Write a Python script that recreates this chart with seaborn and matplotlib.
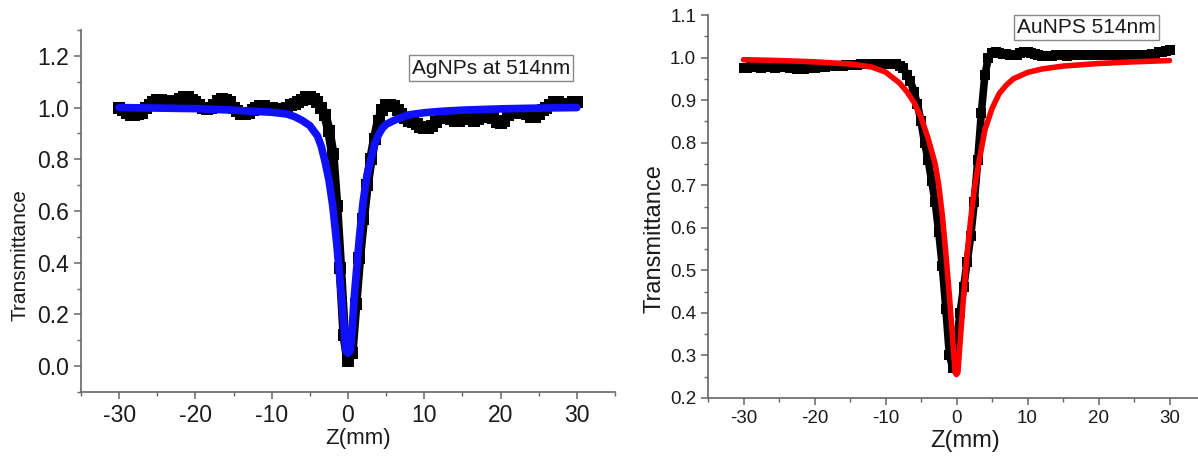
import matplotlib
matplotlib.use("Agg")
import matplotlib.pyplot as plt
import seaborn as sns
import pandas as pd
from matplotlib.ticker import MultipleLocator, AutoMinorLocator

# ---- AgNPs (left panel) measured points, z every 0.5 mm ----
ag_z = [i * 0.5 for i in range(-60, 61)]
ag_t = [1.00, 0.99, 0.98, 0.97, 0.97, 0.975, 0.98, 1.00, 1.01, 1.02,
        1.03, 1.03, 1.025, 1.02, 1.02, 1.025, 1.035, 1.04, 1.04, 1.03,
        1.02, 1.01, 1.00, 0.995, 1.00, 1.01, 1.025, 1.035, 1.03, 1.02,
        1.00, 0.985, 0.975, 0.975, 0.98, 0.99, 1.00, 1.005, 1.005, 1.00,
        1.00, 0.995, 0.99, 0.995, 1.00, 1.01, 1.015, 1.02, 1.03, 1.04,
        1.04, 1.035, 1.02, 1.00, 0.97, 0.91, 0.82, 0.62, 0.38, 0.12,
        0.02, 0.05, 0.24, 0.42, 0.57, 0.70, 0.80, 0.88, 0.95, 0.99,
        1.01, 1.01, 1.005, 0.99, 0.975, 0.96, 0.95, 0.945, 0.935, 0.925,
        0.92, 0.92, 0.93, 0.945, 0.96, 0.965, 0.96, 0.955, 0.95, 0.95,
        0.955, 0.96, 0.955, 0.95, 0.955, 0.965, 0.975, 0.98, 0.96, 0.945,
        0.94, 0.95, 0.97, 0.98, 0.985, 0.985, 0.98, 0.975, 0.965, 0.965,
        0.975, 0.99, 1.00, 1.01, 1.02, 1.02, 1.015, 1.01, 1.015, 1.02,
        1.02]

# AgNPs fitted curve
ag_fit_z = [-30, -25, -20, -15, -12, -10, -8, -7, -6, -5, -4, -3.5, -3, -2.5,
            -2, -1.5, -1, -0.5, -0.3, 0, 0.3, 0.5, 0.8, 1, 1.5, 2, 2.5, 3,
            3.5, 4, 4.5, 5, 6, 7, 8, 10, 12, 15, 20, 25, 30]
ag_fit_t = [1.0, 0.998, 0.996, 0.99, 0.985, 0.982, 0.975, 0.965, 0.95, 0.93,
            0.89, 0.85, 0.79, 0.72, 0.62, 0.48, 0.32, 0.14, 0.06, 0.05, 0.06,
            0.12, 0.26, 0.33, 0.50, 0.64, 0.74, 0.80, 0.86, 0.895, 0.92,
            0.935, 0.95, 0.962, 0.972, 0.98, 0.985, 0.99, 0.995, 0.998, 1.0]

# ---- AuNPs (right panel) measured points, z every 0.5 mm ----
au_z = [i * 0.5 for i in range(-60, 61)]
au_t = [0.975, 0.975, 0.977, 0.978, 0.977, 0.976, 0.977, 0.978, 0.977, 0.976,
        0.977, 0.978, 0.977, 0.976, 0.975, 0.974, 0.973, 0.974, 0.976, 0.977,
        0.976, 0.977, 0.978, 0.978, 0.979, 0.979, 0.980, 0.981, 0.981, 0.982,
        0.982, 0.983, 0.983, 0.984, 0.984, 0.984, 0.985, 0.985, 0.986, 0.986,
        0.986, 0.986, 0.986, 0.985, 0.980, 0.975, 0.960, 0.945, 0.920, 0.890,
        0.850, 0.800, 0.760, 0.710, 0.660, 0.590, 0.510, 0.410, 0.300, 0.270,
        0.330, 0.400, 0.460, 0.520, 0.580, 0.660, 0.760, 0.870, 0.960, 1.000,
        1.010, 1.012, 1.010, 1.009, 1.008, 1.007, 1.005, 1.006, 1.010, 1.012,
        1.012, 1.010, 1.008, 1.005, 1.003, 1.003, 1.003, 1.004, 1.005, 1.005,
        1.005, 1.004, 1.005, 1.006, 1.006, 1.005, 1.005, 1.006, 1.006, 1.006,
        1.005, 1.006, 1.006, 1.007, 1.006, 1.005, 1.006, 1.006, 1.007, 1.006,
        1.006, 1.006, 1.007, 1.006, 1.007, 1.008, 1.009, 1.012, 1.012, 1.015,
        1.018]

# AuNPs fitted curve
au_fit_z = [-30, -25, -20, -15, -12, -10, -8, -7, -6, -5, -4, -3, -2.5, -2,
            -1.5, -1, -0.5, -0.2, 0, 0.2, 0.5, 1, 1.5, 2, 2.5, 3, 4, 5, 6, 7,
            8, 10, 12, 15, 20, 25, 30]
au_fit_t = [0.995, 0.993, 0.99, 0.985, 0.978, 0.966, 0.94, 0.92, 0.895, 0.86,
            0.81, 0.75, 0.70, 0.63, 0.54, 0.44, 0.33, 0.26, 0.255, 0.26, 0.33,
            0.44, 0.54, 0.62, 0.69, 0.74, 0.83, 0.88, 0.915, 0.935, 0.95,
            0.965, 0.973, 0.98, 0.986, 0.99, 0.993]

sns.set_style("ticks")
plt.rcParams["font.family"] = ["Liberation Sans", "DejaVu Sans"]
plt.rcParams["axes.unicode_minus"] = False

fig = plt.figure(figsize=(11.98, 4.59), dpi=100)
ax1 = fig.add_axes([81 / 1198, 67 / 459, 534 / 1198, 362 / 459])
ax2 = fig.add_axes([708 / 1198, 61 / 459, 497 / 1198, 383 / 459])

ag_df = pd.DataFrame({"z": ag_z, "t": ag_t})
ag_fit = pd.DataFrame({"z": ag_fit_z, "t": ag_fit_t})
au_df = pd.DataFrame({"z": au_z, "t": au_t})
au_fit = pd.DataFrame({"z": au_fit_z, "t": au_fit_t})

# left panel: measured (thick black squares) + fit (blue)
sns.lineplot(data=ag_df, x="z", y="t", ax=ax1, color="black", lw=7,
             marker="s", markersize=8, markeredgewidth=0, zorder=2)
sns.lineplot(data=ag_fit, x="z", y="t", ax=ax1, color="#1010ff", lw=5.5,
             zorder=3)
# right panel: measured + fit (red)
sns.lineplot(data=au_df, x="z", y="t", ax=ax2, color="black", lw=5.5,
             marker="s", markersize=6.5, markeredgewidth=0, zorder=2)
sns.lineplot(data=au_fit, x="z", y="t", ax=ax2, color="#ff0000", lw=4,
             zorder=3)

ax1.set_xlim(-35, 35)
ax1.set_ylim(-0.1, 1.3)
ax1.yaxis.set_major_locator(MultipleLocator(0.2))
ax2.set_xlim(-35, 35)
ax2.set_ylim(0.2, 1.1)
ax2.yaxis.set_major_locator(MultipleLocator(0.1))

for ax, fs in [(ax1, 16.5), (ax2, 13.5)]:
    ax.xaxis.set_major_locator(MultipleLocator(10))
    ax.xaxis.set_minor_locator(AutoMinorLocator(2))
    ax.yaxis.set_minor_locator(AutoMinorLocator(2))
    for side in ["top", "right"]:
        ax.spines[side].set_visible(False)
    for side in ["left", "bottom"]:
        ax.spines[side].set_color("#666666")
        ax.spines[side].set_linewidth(1.2)
    ax.tick_params(which="major", length=5, width=1.1, color="#666666",
                   labelsize=fs, labelcolor="#1a1a1a", direction="out")
    ax.tick_params(which="minor", length=3, width=1.0, color="#666666",
                   direction="out")
    ax.set_facecolor("white")

ax1.set_xlabel("Z(mm)", fontsize=16, color="#1a1a1a")
ax1.set_ylabel("Transmittance", fontsize=15, color="#1a1a1a")
ax1.xaxis.set_label_coords(0.519, -0.10)
ax1.yaxis.set_label_coords(-0.097, 0.378)

ax2.set_xlabel("Z(mm)", fontsize=17, color="#1a1a1a")
ax2.set_ylabel("Transmittance", fontsize=17, color="#1a1a1a")
ax2.xaxis.set_label_coords(0.517, -0.084)
ax2.yaxis.set_label_coords(-0.085, 0.415)

box = dict(boxstyle="square,pad=0.15", fc="white", ec="#888888", lw=1)
ax1.text(0.62, 0.895, "AgNPs at 514nm", transform=ax1.transAxes,
         fontsize=15, ha="left", va="center", bbox=box, color="#1a1a1a")
ax2.text(0.622, 0.967, "AuNPS 514nm", transform=ax2.transAxes,
         fontsize=15, ha="left", va="center", bbox=box, color="#1a1a1a")

fig.savefig("out.png", dpi=100)
